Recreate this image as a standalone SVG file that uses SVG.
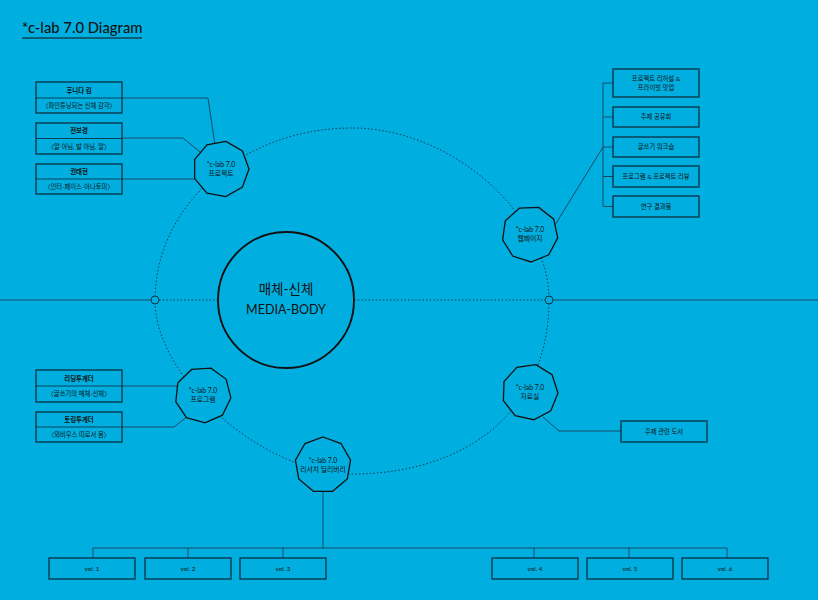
<svg xmlns="http://www.w3.org/2000/svg" width="818" height="600" viewBox="0 0 818 600">
<defs>
<style>
.bg{fill:#00AFE0}
.box{fill:none;stroke:#0c2636;stroke-width:1.2}
.div{stroke:#0c2636;stroke-width:0.8}
.con{fill:none;stroke:#184a66;stroke-width:1}
.dot{fill:none;stroke:#14364c;stroke-width:0.9;stroke-dasharray:1.6 2}
.nona{fill:#00AFE0;stroke:#111;stroke-width:1.3}
.t{font-family:Lato,"Noto Sans CJK KR",sans-serif;fill:#111;text-anchor:middle}
.bt{font-size:6.4px;font-weight:700}
.st{font-size:6.3px}
.nt{font-size:6.8px}
</style>
<polygon id="nona" points="0,-28 18,-21.45 27.57,-4.86 24.25,14 9.58,26.31 -9.58,26.31 -24.25,14 -27.57,-4.86 -18,-21.45"/>
</defs>
<rect class="bg" x="0" y="0" width="818" height="600"/>

<g id="title">
<text x="22" y="33" font-family="Lato,'Noto Sans',sans-serif" font-size="14.8" font-weight="500" fill="#111">*c-lab 7.0 Diagram</text>
<line x1="22" y1="38" x2="142" y2="38" stroke="#111" stroke-width="1.2"/>
</g>

<g id="connectors">
<path class="dot" d="M155,300 C155,205 243,128 352,128 C452,128 549,215 549,300 C549,412 465,474 352,474 C265,474 155,380 155,300 Z"/>
<path class="con" d="M0,300 H151 M553,300 H818"/>
<path class="dot" d="M159,300 H218 M354,300 H545"/>
<path class="con" d="M122,98 H208 L215,145"/>
<path class="con" d="M122,138 H183 L200,152"/>
<path class="con" d="M122,179 H196"/>
<path class="con" d="M555,225 L603,147"/>
<path class="con" d="M613,83 H603 V206.5 H613 M603,117 H613 M603,147 H613 M603,176.5 H613"/>
<path class="con" d="M122,386 H178"/>
<path class="con" d="M122,427 H174 L188,416"/>
<path class="con" d="M543,417 L559,431 H621"/>
<path class="con" d="M323,490 V548 M93,558 V548 H727 V558 M188,548 V558 M283,548 V558 M534,548 V558 M629,548 V558"/>
</g>

<g id="junction-left"><circle cx="155" cy="300" r="4" fill="#00AFE0" stroke="#14364c" stroke-width="1"/></g>
<g id="junction-right"><circle cx="549" cy="300" r="4" fill="#00AFE0" stroke="#14364c" stroke-width="1"/></g>

<g id="center">
<circle cx="286" cy="300" r="68" fill="#00AFE0" stroke="#111" stroke-width="1.9"/>
<text class="t" x="286" y="294" font-size="13.5">매체-신체</text>
<text class="t" x="286" y="314" font-size="12.5">MEDIA-BODY</text>
</g>

<g id="node-project">
<use href="#nona" class="nona" transform="translate(221,169) rotate(10)"/>
<text class="t nt" x="221" y="167">*c-lab 7.0</text>
<text class="t nt" x="221" y="176">프로젝트</text>
</g>
<g id="node-webpage">
<use href="#nona" class="nona" transform="translate(530,234) rotate(18)"/>
<text class="t nt" x="530" y="232">*c-lab 7.0</text>
<text class="t nt" x="530" y="241">웹페이지</text>
</g>
<g id="node-program">
<use href="#nona" class="nona" transform="translate(203,395) rotate(16)"/>
<text class="t nt" x="203" y="393">*c-lab 7.0</text>
<text class="t nt" x="203" y="402">프로그램</text>
</g>
<g id="node-archive">
<use href="#nona" class="nona" transform="translate(530,392) rotate(12)"/>
<text class="t nt" x="530" y="390">*c-lab 7.0</text>
<text class="t nt" x="530" y="399">자료실</text>
</g>
<g id="node-library">
<use href="#nona" class="nona" transform="translate(323,465) rotate(0)"/>
<text class="t nt" x="323" y="463">*c-lab 7.0</text>
<text class="t nt" x="323" y="472">리서치 딜리버리</text>
</g>

<g id="box-hoonida">
<rect class="box" x="36" y="82" width="86" height="31"/>
<line class="div" x1="36" y1="98" x2="122" y2="98"/>
<text class="t bt" x="79" y="92.5">후니다 킴</text>
<text class="t st" x="79" y="108">〈파인튜닝되는 신체 감각〉</text>
</g>
<g id="box-jun">
<rect class="box" x="36" y="123" width="86" height="31"/>
<line class="div" x1="36" y1="138.5" x2="122" y2="138.5"/>
<text class="t bt" x="79" y="133">전보경</text>
<text class="t st" x="79" y="148.5">〈말 아님, 발 아님, 말〉</text>
</g>
<g id="box-kwon">
<rect class="box" x="36" y="164" width="86" height="30"/>
<line class="div" x1="36" y1="179" x2="122" y2="179"/>
<text class="t bt" x="79" y="173.5">권태현</text>
<text class="t st" x="79" y="189">〈인터-페이스-아나토미〉</text>
</g>

<g id="box-rehearsal">
<rect class="box" x="613" y="69" width="86" height="28"/>
<text class="t st" x="656" y="80.5">프로젝트 리허설 &amp;</text>
<text class="t st" x="656" y="90">프라이빗 밋업</text>
</g>
<g id="box-share">
<rect class="box" x="613" y="107" width="86" height="20"/>
<text class="t st" x="656" y="119">주제 공유회</text>
</g>
<g id="box-writing">
<rect class="box" x="613" y="137" width="86" height="20"/>
<text class="t st" x="656" y="149">글쓰기 워크숍</text>
</g>
<g id="box-review">
<rect class="box" x="613" y="166" width="86" height="21"/>
<text class="t st" x="656" y="178.5">프로그램 &amp; 프로젝트 리뷰</text>
</g>
<g id="box-results">
<rect class="box" x="613" y="196" width="86" height="21"/>
<text class="t st" x="656" y="208.5">연구 결과물</text>
</g>

<g id="box-reading">
<rect class="box" x="36" y="370" width="86" height="32"/>
<line class="div" x1="36" y1="386" x2="122" y2="386"/>
<text class="t bt" x="79" y="380.5">리딩투게더</text>
<text class="t st" x="79" y="396">〈글쓰기의 매체-신체〉</text>
</g>
<g id="box-talking">
<rect class="box" x="36" y="412" width="86" height="30"/>
<line class="div" x1="36" y1="427" x2="122" y2="427"/>
<text class="t bt" x="79" y="421.5">토킹투게더</text>
<text class="t st" x="79" y="437">〈뫼비우스 띠로서 몸〉</text>
</g>

<g id="box-books">
<rect class="box" x="621" y="421" width="86" height="21"/>
<text class="t st" x="664" y="433.5">주제 관련 도서</text>
</g>

<g id="vol-1"><rect class="box" x="49" y="558" width="86" height="21"/><text class="t st" x="92" y="570.5">vol. 1</text></g>
<g id="vol-2"><rect class="box" x="145" y="558" width="86" height="21"/><text class="t st" x="188" y="570.5">vol. 2</text></g>
<g id="vol-3"><rect class="box" x="240" y="558" width="86" height="21"/><text class="t st" x="283" y="570.5">vol. 3</text></g>
<g id="vol-4"><rect class="box" x="492" y="558" width="86" height="21"/><text class="t st" x="535" y="570.5">vol. 4</text></g>
<g id="vol-5"><rect class="box" x="587" y="558" width="86" height="21"/><text class="t st" x="630" y="570.5">vol. 5</text></g>
<g id="vol-6"><rect class="box" x="682" y="558" width="86" height="21"/><text class="t st" x="725" y="570.5">vol. 6</text></g>
</svg>
